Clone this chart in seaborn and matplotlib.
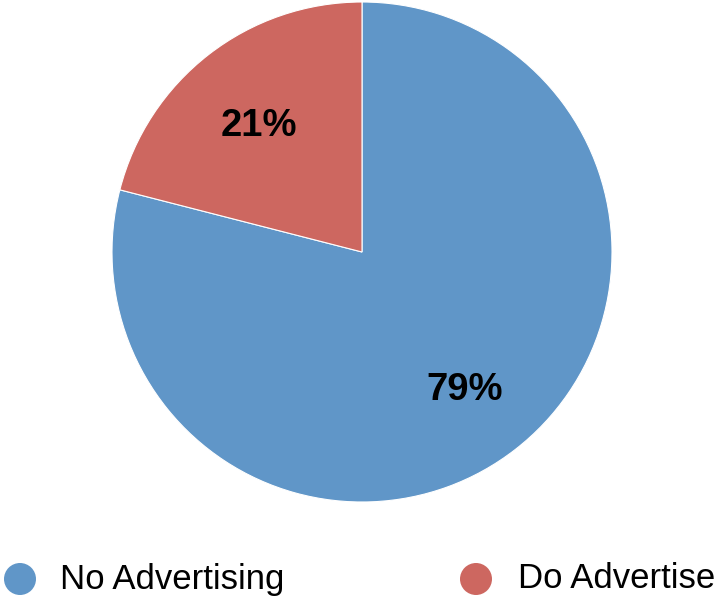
import matplotlib
matplotlib.use("Agg")
import matplotlib.pyplot as plt
import seaborn as sns

# Survey shares
categories = ["No Advertising", "Do Advertise"]
shares = [79, 21]
colors = ["#6096C8", "#CD6760"]

sns.set_theme(style="white")
plt.rcParams["font.family"] = ["Liberation Sans", "DejaVu Sans"]

W, H = 715, 596
fig = plt.figure(figsize=(W / 100, H / 100), dpi=100)

# Pie area: centre (362, 252) px, radius 250 px
cx, cy, r = 362, 252, 250
ax = fig.add_axes([(cx - r) / W, (H - cy - r) / H, 2 * r / W, 2 * r / H])
wedges, texts, autotexts = ax.pie(
    shares,
    colors=colors,
    startangle=90,
    counterclock=False,
    radius=1.0,
    autopct=lambda p: f"{p:.0f}%",
    pctdistance=0.67,
    wedgeprops=dict(edgecolor="white", linewidth=0.8),
    textprops=dict(fontsize=27.5, fontweight="bold", color="black"),
)
# nudge the percentage labels slightly downward
for t in autotexts:
    x, y = t.get_position()
    t.set_position((x, y - 0.024))
ax.set_xlim(-1, 1)
ax.set_ylim(-1, 1)
ax.set_aspect("equal")
ax.axis("off")

# Legend row along the bottom, laid out in pixel coordinates
lax = fig.add_axes([0, 0, 1, 1])
lax.set_xlim(0, W)
lax.set_ylim(H, 0)
lax.axis("off")
marker_x = [20, 476]
text_x = [60, 518]
ly = 579
for mx, tx, label, col in zip(marker_x, text_x, categories, colors):
    lax.scatter([mx], [ly], s=(32 * 0.72) ** 2, color=col, edgecolor="none")
    lax.text(tx, ly, label, fontsize=25, va="center", ha="left", color="black")

fig.savefig("out.png", dpi=100, facecolor="white")
